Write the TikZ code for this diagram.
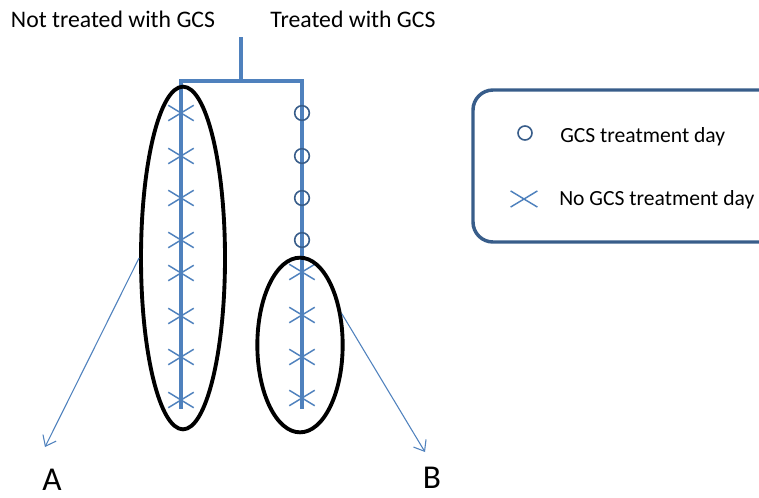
\documentclass[tikz,border=0pt]{standalone}
\usepackage{fontspec}
\setmainfont{Carlito}
\usetikzlibrary{arrows.meta,shapes.geometric,shapes.misc}
\definecolor{gcsblue}{HTML}{4F81BD}
\definecolor{gcsdark}{HTML}{385D8A}

\begin{document}
\begin{tikzpicture}[x=0.75pt,y=-0.75pt,
		branch/.style={draw=gcsblue,line width=2.9pt},
		noday/.style={cross out,draw=gcsblue,line width=1.1pt,minimum width=18pt,minimum height=10.5pt,inner sep=0pt},
		gcsday/.style={circle,draw=gcsdark,line width=1.2pt,minimum size=11pt,inner sep=0pt},
		group/.style={ellipse,draw=black,line width=2.9pt,inner sep=0pt},
		pointer/.style={draw=gcsblue,line width=0.8pt,-{Straight Barb[length=7pt,width=11pt]}},
		title/.style={font=\fontsize{17.8}{21}\selectfont,anchor=base},
		legendtext/.style={font=\fontsize{16.2}{20}\selectfont,anchor=base west,inner sep=0pt},
		letter/.style={font=\fontsize{25}{30}\selectfont,anchor=base,inner sep=0pt}]
		\useasboundingbox (0,0) rectangle (759,497);
		% titles
		\node[title] (nottreated) at (113,27) {Not treated with GCS};
		\node[title] (treated) at (353,27) {Treated with GCS};
		% branches
		\coordinate (stem) at (241,37);
		\coordinate (split) at (241,81);
		\coordinate (lefttop) at (181,81);
		\coordinate (righttop) at (302,81);
		\coordinate (leftend) at (181,409);
		\coordinate (rightend) at (302,409);
		\draw[branch] (stem) -- (split);
		\draw[branch] (leftend) -- (lefttop) -- (righttop) -- (rightend);
		% days
		\foreach \y [count=\i] in {113,156,198,240,273,316,357,400}
			\node[noday] (left\i) at (181,\y) {};
		\foreach \y [count=\i] in {113,156,198,240}
			\node[gcsday] (day\i) at (302,\y) {};
		\foreach \y [count=\i] in {272,315,357,398}
			\node[noday] (right\i) at (302,\y) {};
		% groups
		\node[group,minimum width=63pt,minimum height=257pt] (groupA) at (183,258) {};
		\node[group,minimum width=64pt,minimum height=131pt] (groupB) at (300,345) {};
		\coordinate (tipA) at (45,447);
		\coordinate (tipB) at (425,452);
		\draw[pointer] (groupA.west) -- (tipA);
		\draw[pointer] (groupB.37) -- (tipB);
		\node[letter] (labelA) at (52,490) {A};
		\node[letter] (labelB) at (432,488) {B};
		% legend
		\draw[draw=gcsdark,line width=2.6pt,rounded corners=15pt] (473,90) rectangle (790,242);
		\node[gcsday,minimum size=10.5pt] (keyday) at (525,133) {};
		\node[noday,minimum width=19pt,minimum height=11pt] (keynoday) at (524,199) {};
		\node[legendtext] (keydaytext) at (560,142) {GCS treatment day};
		\node[legendtext] (keynodaytext) at (559,205) {No GCS treatment day};
	\end{tikzpicture}
\end{document}
